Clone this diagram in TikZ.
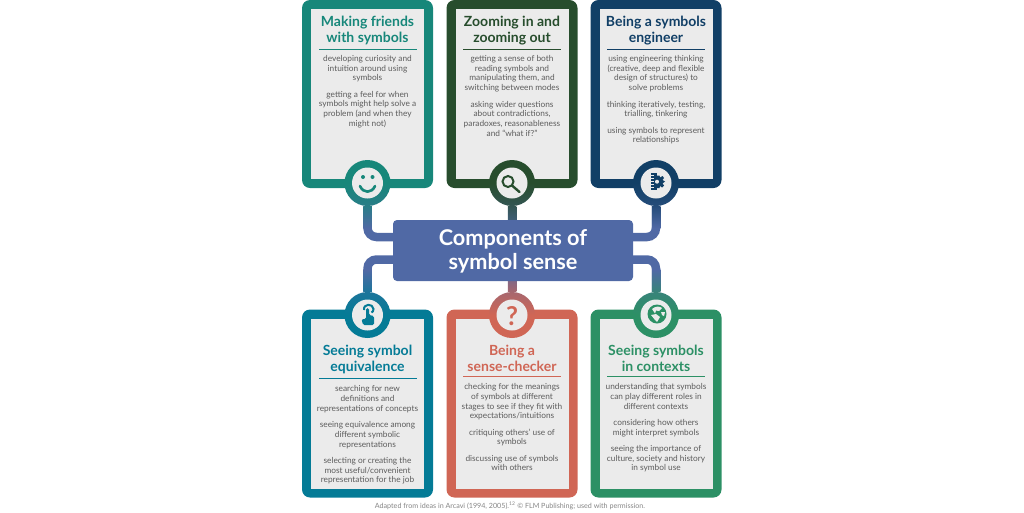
\documentclass[tikz,border=0pt]{standalone}
\usepackage{fontspec}
\setmainfont{Lato}
\usepackage{tikz}
\usetikzlibrary{positioning, backgrounds}
\definecolor{friendcol}{HTML}{17877A}
\definecolor{zoomcol}{HTML}{274D2D}
\definecolor{engcol}{HTML}{113F66}
\definecolor{equivcol}{HTML}{047B96}
\definecolor{checkcol}{HTML}{D06655}
\definecolor{contextcol}{HTML}{2C9065}
\definecolor{mainblue}{HTML}{5069A5}
\definecolor{panelgray}{HTML}{EBEBEB}
\definecolor{bodygray}{HTML}{5C5C5C}
\tikzset{
    card/.style={fill=#1, rounded corners=8pt, minimum width=131pt, minimum height=188pt, inner sep=0pt},
    panel/.style={fill=panelgray, minimum width=113pt, minimum height=170pt, inner sep=0pt},
    title/.style={text=#1, inner sep=0pt, align=center, font=\fontsize{14}{16}\selectfont\bfseries},
    titlerule/.style={fill=#1, minimum width=98pt, minimum height=1.2pt, inner sep=0pt},
    bodytext/.style={text=bodygray, inner sep=0pt, align=center, font=\fontsize{8.3}{9.7}\selectfont},
    ringdown/.style={circle, minimum size=46pt, inner sep=0pt, top color=#1, bottom color=#1!68!mainblue, middle color=#1},
    ringup/.style={circle, minimum size=46pt, inner sep=0pt, top color=#1!68!mainblue, bottom color=#1, middle color=#1},
    disc/.style={circle, fill=panelgray, minimum size=31pt, inner sep=0pt},
    link/.style={draw=mainblue, line width=8.5pt, rounded corners=9pt}
}
\begin{document}
\begin{tikzpicture}[x=1pt, y=-1pt]
    \useasboundingbox (0,0) rectangle (1024,512);
    \node[fill=mainblue, rounded corners=4pt, minimum width=240pt, minimum height=61pt, inner sep=0pt] (main) at (513,250.5) {};
    \node[text=white, inner sep=0pt, align=center, font=\fontsize{21.7}{24}\selectfont\bfseries] (maintext) at ([yshift=-0.5pt]main.center) {Components of\\symbol sense};

    % top row
    \node[card=friendcol] (cardA) at (367.5,94) {};
    \node[panel] (panelA) at (cardA.center) {};
    \node[title=friendcol, below=7pt of panelA.north] (titleA) {Making friends\\with symbols};
    \node[titlerule=friendcol, below=3.5pt of titleA] (ruleA) {};
    \node[bodytext, below=5pt of ruleA] (bodyA) {developing curiosity and\\intuition around using\\symbols\\[6.7pt]getting a feel for when\\symbols might help solve a\\problem (and when they\\might not)};
    \node[ringdown=friendcol] (ringA) at (367.5,183) {};
    \node[disc] (discA) at (ringA.center) {};

    \node[card=zoomcol] (cardB) at (512,94) {};
    \node[panel] (panelB) at (cardB.center) {};
    \node[title=zoomcol, below=7pt of panelB.north] (titleB) {Zooming in and\\zooming out};
    \node[titlerule=zoomcol, below=3.5pt of titleB] (ruleB) {};
    \node[bodytext, below=5pt of ruleB] (bodyB) {getting a sense of both\\reading symbols and\\manipulating them, and\\switching between modes\\[6.7pt]asking wider questions\\about contradictions,\\paradoxes, reasonableness\\and “what if?”};
    \node[ringdown=zoomcol] (ringB) at (512,183) {};
    \node[disc] (discB) at (ringB.center) {};

    \node[card=engcol] (cardC) at (656,94) {};
    \node[panel] (panelC) at (cardC.center) {};
    \node[title=engcol, below=7pt of panelC.north] (titleC) {Being a symbols\\engineer};
    \node[titlerule=engcol, below=3.5pt of titleC] (ruleC) {};
    \node[bodytext, below=5pt of ruleC] (bodyC) {using engineering thinking\\(creative, deep and flexible\\design of structures) to\\solve problems\\[6.7pt]thinking iteratively, testing,\\trialling, tinkering\\[6.7pt]using symbols to represent\\relationships};
    \node[ringdown=engcol] (ringC) at (656,183) {};
    \node[disc] (discC) at (ringC.center) {};

    % bottom row
    \node[card=equivcol] (cardD) at (367.5,403.5) {};
    \node[panel] (panelD) at (cardD.center) {};
    \node[title=equivcol, below=27pt of panelD.north] (titleD) {Seeing symbol\\equivalence};
    \node[titlerule=equivcol, below=3.5pt of titleD] (ruleD) {};
    \node[bodytext, below=6pt of ruleD] (bodyD) {searching for new\\definitions and\\representations of concepts\\[6.7pt]seeing equivalence among\\different symbolic\\representations\\[6.7pt]selecting or creating the\\most useful/convenient\\representation for the job};
    \node[ringup=equivcol] (ringD) at (367.5,315) {};
    \node[disc] (discD) at (ringD.center) {};

    \node[card=checkcol] (cardE) at (512,403.5) {};
    \node[panel] (panelE) at (cardE.center) {};
    \node[title=checkcol, below=27pt of panelE.north] (titleE) {Being a\\sense-checker};
    \node[titlerule=checkcol, below=3.5pt of titleE] (ruleE) {};
    \node[bodytext, below=6pt of ruleE] (bodyE) {checking for the meanings\\of symbols at different\\stages to see if they fit with\\expectations/intuitions\\[6.7pt]critiquing others’ use of\\symbols\\[6.7pt]discussing use of symbols\\with others};
    \node[ringup=checkcol] (ringE) at (512,315) {};
    \node[disc] (discE) at (ringE.center) {};

    \node[card=contextcol] (cardF) at (656,403.5) {};
    \node[panel] (panelF) at (cardF.center) {};
    \node[title=contextcol, below=27pt of panelF.north] (titleF) {Seeing symbols\\in contexts};
    \node[titlerule=contextcol, below=3.5pt of titleF] (ruleF) {};
    \node[bodytext, below=6pt of ruleF] (bodyF) {understanding that symbols\\can play different roles in\\different contexts\\[6.7pt]considering how others\\might interpret symbols\\[6.7pt]seeing the importance of\\culture, society and history\\in symbol use};
    \node[ringup=contextcol] (ringF) at (656,315) {};
    \node[disc] (discF) at (ringF.center) {};

    % connectors
    \begin{scope}[on background layer]
        \draw[link] (ringA.south) |- ([yshift=13.5pt]main.west);
        \draw[link] (ringC.south) |- ([yshift=13.5pt]main.east);
        \draw[link] (ringD.north) |- ([yshift=-9pt]main.west);
        \draw[link] (ringF.north) |- ([yshift=-9pt]main.east);
        \draw[link] (ringB.south) -- (main.north -| ringB.south);
        \draw[link] (ringE.north) -- (main.south -| ringE.north);
        \shade[top color=friendcol!68!mainblue, bottom color=mainblue] ([xshift=-4.25pt]ringA.south) rectangle ([xshift=4.25pt,yshift=-22pt]ringA.south);
        \shade[top color=engcol!68!mainblue, bottom color=mainblue] ([xshift=-4.25pt]ringC.south) rectangle ([xshift=4.25pt,yshift=-22pt]ringC.south);
        \shade[top color=mainblue, bottom color=equivcol!68!mainblue] ([xshift=-4.25pt,yshift=22pt]ringD.north) rectangle ([xshift=4.25pt]ringD.north);
        \shade[top color=mainblue, bottom color=contextcol!68!mainblue] ([xshift=-4.25pt,yshift=22pt]ringF.north) rectangle ([xshift=4.25pt]ringF.north);
        \shade[top color=zoomcol!68!mainblue, bottom color=zoomcol!35!mainblue] ([xshift=-4.25pt]ringB.south) rectangle ([xshift=4.25pt,yshift=-16pt]ringB.south);
        \shade[top color=checkcol!35!mainblue, bottom color=checkcol!68!mainblue] ([xshift=-4.25pt,yshift=13pt]ringE.north) rectangle ([xshift=4.25pt]ringE.north);
    \end{scope}

    % icons
    \fill[friendcol] (363,177) circle (2pt) (372.5,177) circle (2pt);
    \draw[friendcol, line width=2.6pt, line cap=round] (360,186) .. controls (363,193.5) and (372,193.5) .. (375,186);

    \draw[zoomcol, line width=2pt] (508,181.5) circle (5.5pt);
    \draw[zoomcol, line width=2.4pt, line cap=round] (512,185.5) -- (519.5,192);

    \fill[engcol] (651,173) rectangle (657,190);
    \foreach \gy in {175,178,181,184,187} {
        \fill[panelgray] (651,\gy) rectangle (653.5,\gy+1);
    }
    \fill[engcol] (657,175.5) -- (659.5,175.5) -- (660,177.5) -- (662.5,176) -- (664,178) -- (662.5,180) -- (665,181.5) -- (662.5,183.5) -- (664,185.5) -- (662,187.5) -- (660,186) -- (659.5,188) -- (657,188) -- cycle;
    \fill[panelgray] (657,181.7) circle (2pt);

    \draw[equivcol, line width=2pt] (364,310) .. controls (363,303.5) and (373,303) .. (373.5,309) .. controls (373.5,311) and (372.5,312) .. (371.5,312.5);
    \fill[equivcol, rounded corners=1.5pt] (366,308) -- (369,308) -- (369,315) -- (374,316) -- (374,325) -- (363,325) -- (361.5,319) -- (366,319) -- cycle;

    \node[text=checkcol, inner sep=0pt, font=\fontsize{26}{26}\selectfont\bfseries] (mark) at (512,316) {?};

    \fill[contextcol] (657,314) circle (9.5pt);
    \fill[panelgray] (652,309) .. controls (655,306) and (660,306) .. (662,308) -- (659,311) -- (656,310.5) -- (655,313.5) -- cycle;
    \fill[panelgray] (651,315) -- (656,314) -- (660,317) -- (657,322) -- (655,320) -- cycle;
    \fill[panelgray] (661,312) -- (665,312) -- (664,316) -- (662,315) -- cycle;

    % source line
    \node[text=black!48, inner sep=0pt, font=\fontsize{7.15}{9}\selectfont] (source) at (510,506) {Adapted from ideas in Arcavi (1994, 2005).\textsuperscript{12} © FLM Publishing; used with permission.};
\end{tikzpicture}
\end{document}
